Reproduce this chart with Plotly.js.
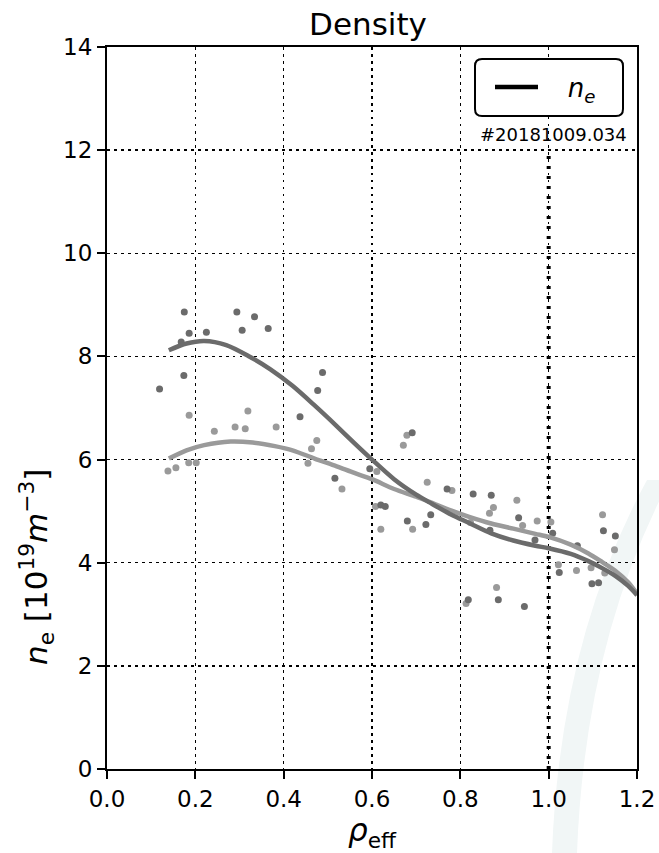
<!DOCTYPE html>
<html>
<head>
<meta charset="utf-8">
<script src="https://cdn.plot.ly/plotly-3.0.1.min.js"></script>
<style>html,body{margin:0;padding:0;background:#fff;}#chart{width:659px;height:853px;}</style>
</head>
<body>
<div id="chart"></div>
<script>
// Measured points (rho_eff, n_e in 1e19 m^-3)
const darkPtsX = [0.119,0.168,0.174,0.175,0.186,0.225,0.294,0.306,0.334,0.365,0.437,0.477,0.488,0.516,0.595,0.620,0.630,0.680,0.691,0.722,0.733,0.770,0.818,0.829,0.867,0.870,0.886,0.932,0.945,0.969,1.009,1.024,1.065,1.098,1.113,1.124,1.151];
const darkPtsY = [7.37,8.28,7.63,8.86,8.45,8.47,8.86,8.51,8.77,8.54,6.83,7.34,7.69,5.64,5.82,5.12,5.09,4.81,6.52,4.74,4.93,5.43,3.28,5.33,4.63,5.31,3.28,4.87,3.15,4.44,4.57,3.81,4.33,3.59,3.61,4.62,4.52];
const lightPtsX = [0.138,0.156,0.185,0.186,0.202,0.243,0.290,0.313,0.319,0.383,0.455,0.463,0.475,0.532,0.608,0.611,0.620,0.671,0.679,0.692,0.725,0.781,0.813,0.823,0.866,0.875,0.882,0.928,0.941,0.974,1.005,1.022,1.063,1.096,1.122,1.127,1.149];
const lightPtsY = [5.78,5.84,5.94,6.86,5.94,6.55,6.63,6.60,6.94,6.63,5.93,6.21,6.37,5.43,5.09,5.77,4.65,6.28,6.47,4.65,5.56,5.40,3.21,4.78,4.96,5.07,3.52,5.21,4.72,4.81,4.79,3.96,3.85,3.90,4.93,3.80,4.25];
// Fitted profiles
const darkFitX = [0.14,0.18,0.22,0.27,0.32,0.37,0.42,0.47,0.52,0.56,0.60,0.65,0.70,0.73,0.78,0.82,0.87,0.92,0.97,1.00,1.05,1.09,1.12,1.15,1.18,1.20];
const darkFitY = [8.12,8.25,8.30,8.22,8.01,7.75,7.43,7.05,6.65,6.32,6.00,5.62,5.32,5.17,4.93,4.77,4.57,4.43,4.33,4.28,4.17,4.03,3.90,3.75,3.55,3.37];
const lightFitX = [0.14,0.18,0.22,0.28,0.33,0.38,0.42,0.47,0.52,0.56,0.60,0.65,0.70,0.73,0.78,0.82,0.87,0.92,0.97,1.00,1.05,1.09,1.12,1.15,1.18,1.20];
const lightFitY = [6.02,6.18,6.28,6.35,6.33,6.26,6.18,6.02,5.87,5.74,5.62,5.43,5.28,5.18,5.01,4.89,4.76,4.66,4.56,4.50,4.35,4.18,4.02,3.85,3.62,3.40];
// Separatrix marker
const sepX = [1.0, 1.0];
const sepY = [0, 12];
const shotLabel = '#20181009.034';
const legendName = '\u00a0\u00a0\u00a0<i>n<sub>e</sub></i>';
const yLabel = '<i>n</i><sub>e</sub> [10<sup>19</sup><i>m</i><sup>−3</sup>]';
const xLabel = '<i>ρ</i><sub>eff</sub>';

const DARK = '#6b6b6b', LIGHT = '#9a9a9a';
const F = 'DejaVu Sans, sans-serif';

const traces = [
  {x: sepX, y: sepY, mode: 'lines', line: {color: '#000', width: 4, dash: '3px,7px'}, showlegend: false, hoverinfo: 'skip'},
  {x: lightPtsX, y: lightPtsY, mode: 'markers', marker: {color: LIGHT, size: 7}, showlegend: false},
  {x: darkPtsX, y: darkPtsY, mode: 'markers', marker: {color: DARK, size: 7}, showlegend: false},
  {x: lightFitX, y: lightFitY, mode: 'lines', line: {color: LIGHT, width: 4.5, shape: 'spline', smoothing: 0.8}, showlegend: false},
  {x: darkFitX, y: darkFitY, mode: 'lines', line: {color: DARK, width: 4.5, shape: 'spline', smoothing: 0.8}, showlegend: false},
  {x: [null], y: [null], mode: 'lines', line: {color: '#000', width: 4.5}, name: legendName, showlegend: true}
];

function px2x(p){ return (p - 107) / 530; }
function px2y(p){ return (769 - p) / 722; }

function roundRect(x0, y0, x1, y1, r){
  const X = px2x, Y = px2y;
  const rx = r / 530, ry = r / 722;
  const a = X(x0), b = X(x1), t = Y(y0), u = Y(y1);
  return `M${a+rx},${t} L${b-rx},${t} Q${b},${t} ${b},${t-ry} L${b},${u+ry} Q${b},${u} ${b-rx},${u} L${a+rx},${u} Q${a},${u} ${a},${u+ry} L${a},${t-ry} Q${a},${t} ${a+rx},${t} Z`;
}

function watermark(){
  const X = px2x, Y = px2y;
  return `M${X(552)},${Y(853)} Q${X(560)},${Y(640)} ${X(647)},${Y(480)} L${X(670)},${Y(480)} Q${X(585)},${Y(640)} ${X(577)},${Y(853)} Z`;
}

const axisCommon = {
  showline: true, linecolor: '#000', linewidth: 2, mirror: true,
  ticks: 'outside', ticklen: 8, tickwidth: 2, tickcolor: '#000',
  showgrid: true, gridcolor: '#000', gridwidth: 1.3, griddash: '2.5px,4.5px',
  zeroline: false,
  tickfont: {family: F, size: 23, color: '#000'}
};

const layout = {
  width: 659, height: 853,
  margin: {l: 107, r: 22, t: 47, b: 84, autoexpand: false},
  paper_bgcolor: '#fff', plot_bgcolor: 'rgba(0,0,0,0)',
  title: {text: 'Density', font: {family: F, size: 31, color: '#000'}, x: (368)/659, xanchor: 'center', y: 1 - 24/853, yanchor: 'middle'},
  xaxis: Object.assign({}, axisCommon, {
    range: [0, 1.2], dtick: 0.2, tick0: 0, tickformat: '.1f',
    title: {text: xLabel, font: {family: F, size: 31, color: '#000'}, standoff: 10}
  }),
  yaxis: Object.assign({}, axisCommon, {
    range: [0, 14], dtick: 2, tick0: 0
  }),
  showlegend: true,
  legend: {
    x: px2x(490), xanchor: 'left', y: px2y(87), yanchor: 'middle',
    bgcolor: 'rgba(0,0,0,0)', borderwidth: 0,
    font: {family: F, size: 26, color: '#000'}, itemwidth: 43
  },
  shapes: [
    {type: 'path', xref: 'paper', yref: 'paper', path: watermark(), fillcolor: '#f1f6f6', line: {width: 0}, layer: 'below'},
    {type: 'path', xref: 'paper', yref: 'paper', path: roundRect(475, 59, 623, 116, 7), fillcolor: '#fff', line: {color: '#000', width: 2}, layer: 'above'}
  ],
  annotations: [
    {text: shotLabel, xref: 'paper', yref: 'paper', x: px2x(629), xanchor: 'right', y: px2y(135), yanchor: 'middle', showarrow: false, font: {family: F, size: 18, color: '#000'}},
    {text: yLabel, xref: 'paper', yref: 'paper', x: px2x(36), xanchor: 'center', y: px2y(567), yanchor: 'middle', textangle: -90, showarrow: false, font: {family: F, size: 31, color: '#000'}}
  ]
};

Plotly.newPlot('chart', traces, layout, {displayModeBar: false, staticPlot: true});
</script>
</body>
</html>
